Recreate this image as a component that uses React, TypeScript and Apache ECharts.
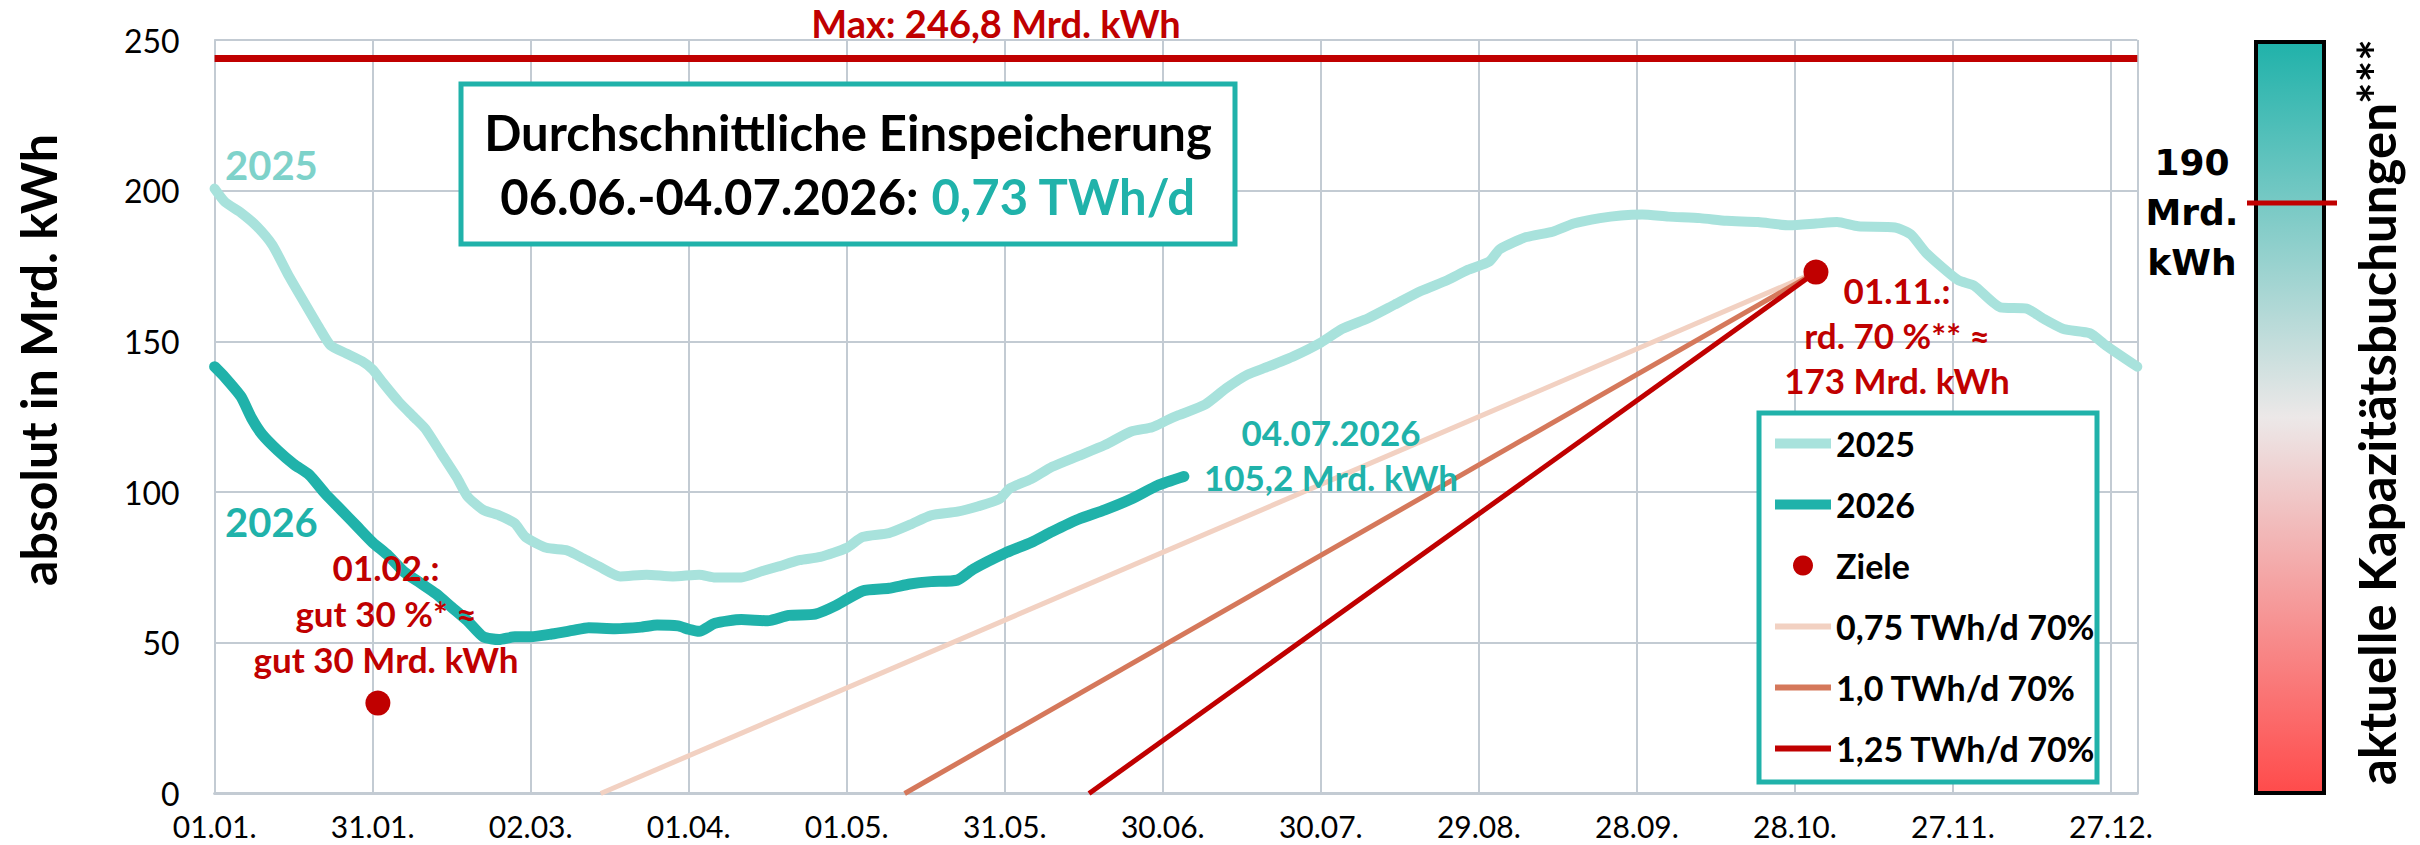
import React, { useEffect, useRef } from "react";
import * as echarts from "echarts";

// ---------- data ----------
const xTickLabels = ["01.01.", "31.01.", "02.03.", "01.04.", "01.05.", "31.05.", "30.06.", "30.07.", "29.08.", "28.09.", "28.10.", "27.11.", "27.12."];

// day of year (0 = 01.01.) , storage in Mrd. kWh
const storage2025: [number, number][] = [
  [0, 200.7], [2, 196.2], [5, 192.7], [8, 188.2], [11, 181.9], [14, 172], [17, 163], [20, 154.1], [22, 148.7],
  [25, 146], [28, 143.4], [30, 140.7], [32, 136.2], [35, 129.9], [38, 124.6], [40, 121], [43, 112.9], [46, 104.8],
  [48, 98.6], [51, 94.1], [54, 92.3], [57, 89.6], [59, 85.1], [63, 81.5], [67, 80.6], [70, 78], [73, 75.3],
  [77, 72], [82, 72.6], [87, 72], [92, 72.6], [95, 71.7], [100, 71.7], [104, 73.8], [107, 75.3], [111, 77.4],
  [115, 78.5], [120, 81.5], [123, 85.1], [128, 86.4], [132, 89.2], [136, 92.3], [141, 93.5], [145, 95.3],
  [149, 97.7], [151, 101.3], [155, 104.3], [159, 108.4], [164, 112], [169, 115.6], [174, 120.1], [178, 121.5],
  [181, 124], [183, 125.5], [188, 129], [192, 134.4], [196, 138.9], [200, 141.6], [205, 145.2], [210, 149.6],
  [214, 154.1], [219, 157.7], [224, 162.2], [229, 166.7], [234, 170.3], [238, 173.8], [242, 176.5], [244, 180.6],
  [249, 184.6], [254, 186.4], [258, 189.1], [263, 190.9], [267, 191.8], [271, 192.1], [276, 191.4], [282, 190.9],
  [287, 190], [293, 189.6], [299, 188.5], [304, 189.1], [308, 189.6], [312, 188.2], [319, 187.8], [322, 185.5],
  [325, 179.2], [331, 170.3], [334, 168.5], [339, 161.3], [344, 160.9], [347, 157.7], [351, 154.1], [356, 152.7],
  [359, 148.7], [365, 141.6],
];

const storage2026: [number, number][] = [
  [0, 141.6], [2, 138], [5, 131.7], [7, 124.6], [9, 119.2], [12, 113.8], [15, 109.3], [18, 105.7], [21, 99.5],
  [24, 94.1], [27, 88.7], [30, 83.3], [33, 78.9], [36, 73.5], [39, 69.9], [42, 66.3], [45, 61.8], [48, 57.3],
  [51, 52], [54, 51.1], [57, 52], [60, 52], [64, 52.9], [68, 54.1], [71, 55], [76, 54.7], [81, 55.2], [84, 55.9],
  [88, 55.6], [90, 54.5], [92, 53.8], [95, 56.5], [100, 57.7], [105, 57.3], [109, 59.1], [114, 59.5], [118, 62.4],
  [123, 67.2], [128, 68.1], [132, 69.5], [136, 70.3], [141, 70.8], [144, 74.4], [150, 79.7], [155, 83.3],
  [159, 86.9], [164, 91], [169, 94.1], [174, 97.7], [179, 102.2], [184, 105.2],
];

const targets: [number, number][] = [[31, 30], [304, 173]];
const path075: [number, number][] = [[73.3, 0], [304, 173]];
const path100: [number, number][] = [[131, 0], [304, 173]];
const path125: [number, number][] = [[166, 0], [304, 173]];
const maxLineValue = 243.8;

const seriesNames = ["2025", "2026", "Ziele", "0,75 TWh/d 70%", "1,0 TWh/d 70%", "1,25 TWh/d 70%"];

// ---------- styles ----------
const C2025 = "#A8E2DC";
const C2025T = "#7ED2CA";
const C2026 = "#20B2AA";
const RED = "#C00000";
const C075 = "#F2D1C2";
const C100 = "#D5785B";
const GRID = "#C3CBD3";
const FONT = "Lato";

const thickIcon = "path://M0,0H56V10H0Z";
const thinIcon = "path://M0,0H56V6H0Z";

export default function App() {
  const ref = useRef<HTMLDivElement>(null);

  useEffect(() => {
    document.body.style.margin = "0";
    if (!ref.current) return;
    const chart = echarts.init(ref.current, undefined, { renderer: "svg" });

    const txt = (
      x: number, y: number, text: string, size: number, fill: string,
      opts: any = {}
    ) => ({
      type: "text",
      x, y, z: 20,
      rotation: opts.rotation || 0,
      style: {
        text,
        fill,
        fontFamily: opts.family || FONT,
        fontSize: size,
        fontWeight: opts.weight || "bold",
        align: opts.align || "center",
        verticalAlign: "middle",
        lineHeight: opts.lineHeight,
        rich: opts.rich,
      },
    });

    const option: any = {
      animation: false,
      backgroundColor: "#fff",
      textStyle: { fontFamily: FONT },
      grid: { left: 214.6, right: 282.7, top: 40, bottom: 51.5, containLabel: false, outerBoundsMode: "none" },
      xAxis: {
        type: "value", min: 0, max: 365, interval: 30,
        axisLine: { show: true, lineStyle: { color: GRID, width: 3 } },
        axisTick: { show: false },
        splitLine: { show: true, lineStyle: { color: GRID, width: 2 } },
        axisLabel: {
          margin: 18, fontSize: 30, lineHeight: 28, color: "#000", fontFamily: FONT,
          formatter: (v: number) => (v % 30 === 0 && v / 30 < xTickLabels.length ? xTickLabels[v / 30] : ""),
        },
      },
      yAxis: {
        type: "value", min: 0, max: 250, interval: 50,
        axisLine: { show: true, lineStyle: { color: GRID, width: 2 } },
        axisTick: { show: false },
        splitLine: { show: true, lineStyle: { color: GRID, width: 2 } },
        axisLabel: { margin: 35, fontSize: 32, color: "#000", fontFamily: FONT },
      },
      legend: {
        orient: "vertical", left: 1770, top: 418, z: 10,
        itemWidth: 56, itemHeight: 20, itemGap: 20, itemTextGap: 4,
        selectedMode: false,
        textStyle: { fontFamily: FONT, fontWeight: "bold", fontSize: 34, color: "#000", lineHeight: 41 },
        data: [
          { name: seriesNames[0], icon: thickIcon },
          { name: seriesNames[1], icon: thickIcon },
          { name: seriesNames[2], icon: "circle", itemStyle: { color: RED, opacity: 1 } },
          { name: seriesNames[3], icon: thinIcon },
          { name: seriesNames[4], icon: thinIcon },
          { name: seriesNames[5], icon: thinIcon },
        ],
      },
      series: [
        {
          name: seriesNames[0], type: "line", data: storage2025, showSymbol: false, symbol: "none", z: 2,
          smooth: 0.2, color: C2025,
          lineStyle: { color: C2025, width: 10, cap: "round", join: "round" },
          markLine: {
            silent: true, symbol: ["none", "none"], animation: false,
            label: { show: false },
            lineStyle: { color: RED, width: 7, type: "solid" },
            data: [{ yAxis: maxLineValue }],
          },
        },
        {
          name: seriesNames[1], type: "line", data: storage2026, showSymbol: false, symbol: "none", z: 3,
          smooth: 0.2, color: C2026,
          lineStyle: { color: C2026, width: 11, cap: "round", join: "round" },
        },
        {
          name: seriesNames[3], type: "line", data: path075, showSymbol: false, symbol: "none", z: 2, color: C075,
          lineStyle: { color: C075, width: 5 },
        },
        {
          name: seriesNames[4], type: "line", data: path100, showSymbol: false, symbol: "none", z: 2, color: C100,
          lineStyle: { color: C100, width: 5 },
        },
        {
          name: seriesNames[5], type: "line", data: path125, showSymbol: false, symbol: "none", z: 2, color: RED,
          lineStyle: { color: RED, width: 5 },
        },
        {
          name: seriesNames[2], type: "scatter", data: targets, symbol: "circle", symbolSize: 25, z: 5,
          color: RED, itemStyle: { color: RED, opacity: 1 },
        },
      ],
      graphic: [
        // y-axis title
        txt(38, 360, "absolut in Mrd. kWh", 50, "#000", { rotation: Math.PI / 2 }),
        // max label
        txt(996, 23, "Max: 246,8 Mrd. kWh", 38, RED),
        // info box
        {
          type: "rect", z: 6,
          shape: { x: 461, y: 84, width: 774, height: 160 },
          style: { fill: "#fff", stroke: C2026, lineWidth: 5 },
        },
        txt(848, 132, "Durchschnittliche Einspeicherung", 49, "#000"),
        txt(848, 196, "{a|06.06.-04.07.2026: }{b|0,73 TWh/d}", 49, "#000", {
          rich: {
            a: { fill: "#000", fontFamily: FONT, fontSize: 49, fontWeight: "bold" },
            b: { fill: C2026, fontFamily: FONT, fontSize: 49, fontWeight: "bold" },
          },
        }),
        // year labels
        txt(225, 165, "2025", 40, C2025T, { align: "left" }),
        txt(225, 522, "2026", 40, C2026, { align: "left" }),
        // annotations
        txt(386, 613, "01.02.:\ngut 30 %* ≈\ngut 30 Mrd. kWh", 35, RED, { lineHeight: 46 }),
        txt(1897, 335, "01.11.:\nrd. 70 %** ≈\n173 Mrd. kWh", 35, RED, { lineHeight: 45 }),
        txt(1331, 454, "04.07.2026\n105,2 Mrd. kWh", 35, C2026, { lineHeight: 45 }),
        // legend frame
        {
          type: "rect", z: 6,
          shape: { x: 1759, y: 413, width: 338, height: 369 },
          style: { fill: "#fff", stroke: C2026, lineWidth: 5 },
        },
        // color bar
        {
          type: "rect", z: 6,
          shape: { x: 2256, y: 42, width: 68, height: 751 },
          style: {
            stroke: "#000", lineWidth: 4,
            fill: {
              type: "linear", x: 0, y: 0, x2: 0, y2: 1,
              colorStops: [
                { offset: 0, color: "#20B2AA" },
                { offset: 0.5, color: "#ECE8E8" },
                { offset: 1, color: "#FF4B4B" },
              ],
            },
          },
        },
        {
          type: "line", z: 8,
          shape: { x1: 2247, y1: 203, x2: 2337, y2: 203 },
          style: { stroke: RED, lineWidth: 5 },
        },
        txt(2192, 212, "190\nMrd.\nkWh", 36, "#000", { family: "DejaVu Sans", lineHeight: 50 }),
        txt(2376, 412, "aktuelle Kapazitätsbuchungen***", 51, "#000", { rotation: Math.PI / 2 }),
      ],
    };

    chart.setOption(option);
    return () => chart.dispose();
  }, []);

  return <div ref={ref} style={{ width: 2420, height: 845 }} />;
}
